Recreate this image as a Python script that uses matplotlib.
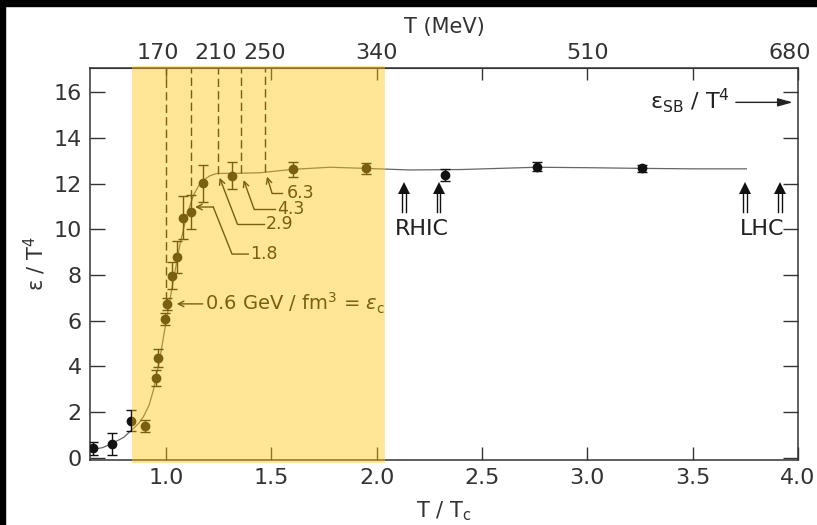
import matplotlib
matplotlib.use("Agg")
import matplotlib.pyplot as plt
import matplotlib.transforms as mtransforms
from matplotlib.patches import Rectangle

# lattice points: T/Tc, energy density / T^4, error
x_pts = [0.656, 0.743, 0.834, 0.902, 0.952, 0.965, 0.998, 1.005, 1.031, 1.052,
         1.081, 1.119, 1.176, 1.314, 1.603, 1.948, 2.327, 2.762, 3.261]
y_pts = [0.42, 0.61, 1.63, 1.40, 3.49, 4.36, 6.08, 6.74, 7.97, 8.81,
         10.51, 10.76, 12.02, 12.35, 12.63, 12.67, 12.38, 12.74, 12.67]
y_err = [0.28, 0.5, 0.45, 0.28, 0.35, 0.4, 0.28, 0.25, 0.6, 0.7,
         0.95, 0.75, 0.8, 0.6, 0.33, 0.25, 0.25, 0.2, 0.15]

# fitted curve
curve_x = [0.645, 0.70, 0.743, 0.80, 0.838, 0.87, 0.894, 0.92, 0.941, 0.973, 1.005, 1.036,
           1.068, 1.100, 1.131, 1.155, 1.179, 1.21, 1.242, 1.321, 1.448, 1.603,
           1.780, 1.948, 2.160, 2.400, 2.762, 3.000, 3.261, 3.500, 3.755]
curve_y = [0.36, 0.45, 0.62, 0.9, 1.22, 1.5, 1.81, 2.3, 2.97, 4.43, 6.18, 7.79,
           9.39, 10.63, 11.50, 11.9, 12.16, 12.35, 12.45, 12.45, 12.48, 12.63,
           12.72, 12.67, 12.60, 12.62, 12.72, 12.70, 12.67, 12.65, 12.65]

Tc = 170
top_labels = [170, 210, 250, 340, 510, 680]
top_ticks = [170, 255, 340, 425, 510, 595, 680]

# energy densities (GeV/fm^3) marked along the curve
dash_x = [1.0, 1.120, 1.247, 1.356, 1.472]
dash_bot = [6.9, 11.37, 12.42, 12.46, 12.5]
ed_labels = ["1.8", "2.9", "4.3", "6.3"]
ed_tip = [(1.139, 10.98), (1.255, 12.26), (1.369, 12.16), (1.480, 12.31)]
ed_path = [[(1.391, 8.92), (1.314, 8.92), (1.225, 10.98)],
           [(1.464, 10.22), (1.340, 10.22)],
           [(1.519, 10.88), (1.419, 10.88)],
           [(1.551, 11.58), (1.504, 11.58)]]
ed_text = [(1.40, 8.92), (1.472, 10.22), (1.527, 10.88), (1.575, 11.58)]

rhic_x = [2.132, 2.294]
lhc_x = [3.747, 3.914]
arrow_lo, arrow_hi = 10.76, 12.07

band = (0.841, 2.042)

ink = "#333333"
fig = plt.figure(figsize=(8.17, 5.25), dpi=100)
fig.patch.set_facecolor("white")
ax = fig.add_axes([90 / 817, 1 - 459.5 / 525, 708 / 817, 391.2 / 525])

ax.plot(curve_x, curve_y, color="#666666", lw=0.9, zorder=2)
ax.errorbar(x_pts, y_pts, yerr=y_err, fmt="o", color="#111111", ms=6,
            elinewidth=1.0, capsize=3.5, capthick=1.0, zorder=3)

for x, yb in zip(dash_x, dash_bot):
    ax.plot([x, x], [yb, 17.05], ls=(0, (6, 3)), color="#111111", lw=1.0, zorder=2)

for lab, tip, path, tpos in zip(ed_labels, ed_tip, ed_path, ed_text):
    ax.plot([p[0] for p in path], [p[1] for p in path], color="#111111", lw=1.0, zorder=2)
    ax.annotate("", xy=tip, xytext=path[-1],
                arrowprops=dict(arrowstyle="->", color="#111111", lw=1.0,
                                shrinkA=0, shrinkB=0, mutation_scale=10))
    ax.text(tpos[0], tpos[1], lab, fontsize=12.5, color="#111111", va="center", ha="left")

ax.annotate("", xy=(1.052, 6.74), xytext=(1.175, 6.74),
            arrowprops=dict(arrowstyle="->", color="#111111", lw=1.0,
                            shrinkA=0, shrinkB=0, mutation_scale=10))
ax.text(1.187, 6.74, "0.6 GeV / fm$^3$ = $\\varepsilon_{\\rm c}$", fontsize=14,
        color="#111111", va="center", ha="left")

# Stefan-Boltzmann limit
ax.annotate("", xy=(3.975, 15.56), xytext=(3.705, 15.56),
            arrowprops=dict(arrowstyle="-|>,head_length=0.9,head_width=0.25", color="#222222",
                            lw=1.0, shrinkA=0, shrinkB=0))
ax.text(3.675, 15.62, "ε$_{\\rm SB}$ / T$^4$", fontsize=16, color="#222222",
        va="center", ha="right")

# RHIC / LHC double arrows
for xs, name in [(rhic_x, "RHIC"), (lhc_x, "LHC")]:
    for x in xs:
        for dx in (-0.009, 0.009):
            ax.plot([x + dx, x + dx], [arrow_lo, arrow_hi - 0.3], color="#111111", lw=1.0)
        ax.plot([x], [arrow_hi - 0.24], marker="^", ms=9, color="#111111", mew=0)
    ax.text(sum(xs) / 2, 10.0, name, fontsize=16, color="#222222", ha="center", va="center")

# yellow band drawn on top so marks under it get tinted
ax.axvspan(band[0], band[1], ymin=-0.009, ymax=1.007, color=(0.991, 0.777, 0.064),
           alpha=0.44, lw=0, zorder=10, clip_on=False)

ax.set_xlim(0.64, 4.0)
ax.set_ylim(-0.07, 17.05)
ax.set_xticks([1.0, 1.5, 2.0, 2.5, 3.0, 3.5, 4.0])
ax.set_yticks(range(0, 17, 2))
ax.tick_params(axis="x", direction="in", length=9.5, width=1.0, labelsize=16,
               pad=6, colors=ink, top=False)
ax.tick_params(axis="y", direction="in", length=11, width=1.0, labelsize=16,
               pad=6, colors=ink, right=True)
for s in ax.spines.values():
    s.set_color(ink)
    s.set_linewidth(1.1)
ax.set_xlabel("T / T$_{\\rm c}$", fontsize=15, color=ink, labelpad=8)
ax.set_ylabel("ε / T$^4$", fontsize=15, color=ink, labelpad=4)

# top temperature axis: ticks every 0.5 Tc, labels at selected temperatures
secax = ax.secondary_xaxis("top", functions=(lambda x: x * Tc, lambda t: t / Tc))
secax.set_xticks(top_ticks)
secax.set_xticklabels([])
secax.tick_params(direction="in", length=8.5, width=1.0, colors=ink)
secax.spines["top"].set_color(ink)
secax.set_xlabel("T (MeV)", fontsize=15, color=ink, labelpad=22)
top_tr = mtransforms.blended_transform_factory(ax.transData, ax.transAxes)
for t in top_labels:
    shift = -8 if t in (170, 680) else 0
    tr = mtransforms.offset_copy(top_tr, fig=fig, x=shift, y=5, units="dots")
    ax.text(t / Tc, 1.0, str(t), transform=tr, fontsize=16, color=ink,
            ha="center", va="bottom")

# black strips on the left and top edges of the original picture
fig.patches.append(Rectangle((0, 1 - 6 / 525), 1, 6 / 525, transform=fig.transFigure,
                             color="black", zorder=0))
fig.patches.append(Rectangle((0, 0), 5 / 817, 1, transform=fig.transFigure,
                             color="black", zorder=0))

fig.savefig("out.png", dpi=100, facecolor=fig.get_facecolor())
